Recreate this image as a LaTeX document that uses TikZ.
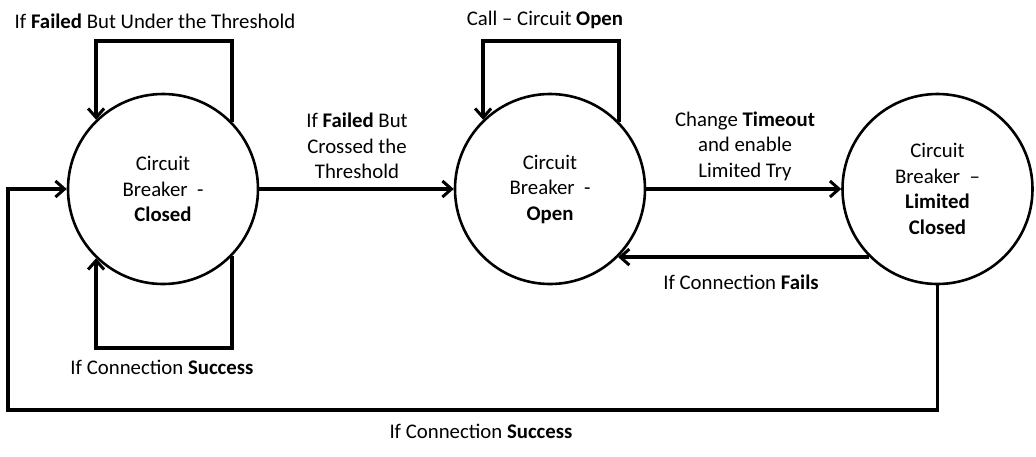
\documentclass[tikz,border=0pt]{standalone}
\usepackage{fontspec}
\setmainfont{Carlito}
\usetikzlibrary{arrows.meta,calc}
\begin{document}
\begin{tikzpicture}[x=1pt,y=-1pt,
  state/.style={circle,draw,line width=2.6pt,minimum size=190pt,inner sep=0pt,align=center,font=\fontsize{20.8}{25.5}\selectfont},
  conn/.style={line width=3.8pt,-{Straight Barb[length=9pt,width=16pt,line width=3pt]}},
  lbl/.style={align=center,inner sep=0pt,font=\fontsize{20.8}{25.5}\selectfont}]
\useasboundingbox (0,0) rectangle (1036,456);
\node[state] (closed) at (163,189) {Circuit\\Breaker\ \ -\\\textbf{Closed}};
\node[state] (open) at (550,189) {Circuit\\Breaker\ \ -\\\textbf{Open}};
\node[state] (limited) at (937.5,189) {Circuit\\Breaker\ \ –\\\textbf{Limited}\\\textbf{Closed}};
\coordinate (topy) at (0,41);
\coordinate (boty) at (0,348);
\coordinate (bl) at (8,410);
% self loops
\draw[conn] (closed.44) -- (closed.44 |- topy) -| (closed.134);
\draw[conn] (closed.-44) -- (closed.-44 |- boty) -| (closed.-134);
\draw[conn] (open.44) -- (open.44 |- topy) -| (open.134);
% transitions
\draw[conn] (closed.east) -- (open.west);
\draw[conn] (open.east) -- (limited.west);
\draw[conn] (limited.225) -- (open.-45);
\draw[conn] (limited.south) |- (bl) |- (closed.west);
% labels
\node[lbl] (l1) at (155,21) {If \textbf{Failed} But Under the Threshold};
\node[lbl] (l2) at (162,367) {If Connection \textbf{Success}};
\node[lbl] (l3) at (357,146) {If \textbf{Failed} But\\Crossed the\\Threshold};
\node[lbl] (l4) at (545,20) {Call – Circuit \textbf{Open}};
\node[lbl] (l5) at (745,146) {Change \textbf{Timeout}\\and enable\\Limited Try};
\node[lbl] (l6) at (741,282) {If Connection \textbf{Fails}};
\node[lbl] (l7) at (481,431) {If Connection \textbf{Success}};
\end{tikzpicture}
\end{document}
